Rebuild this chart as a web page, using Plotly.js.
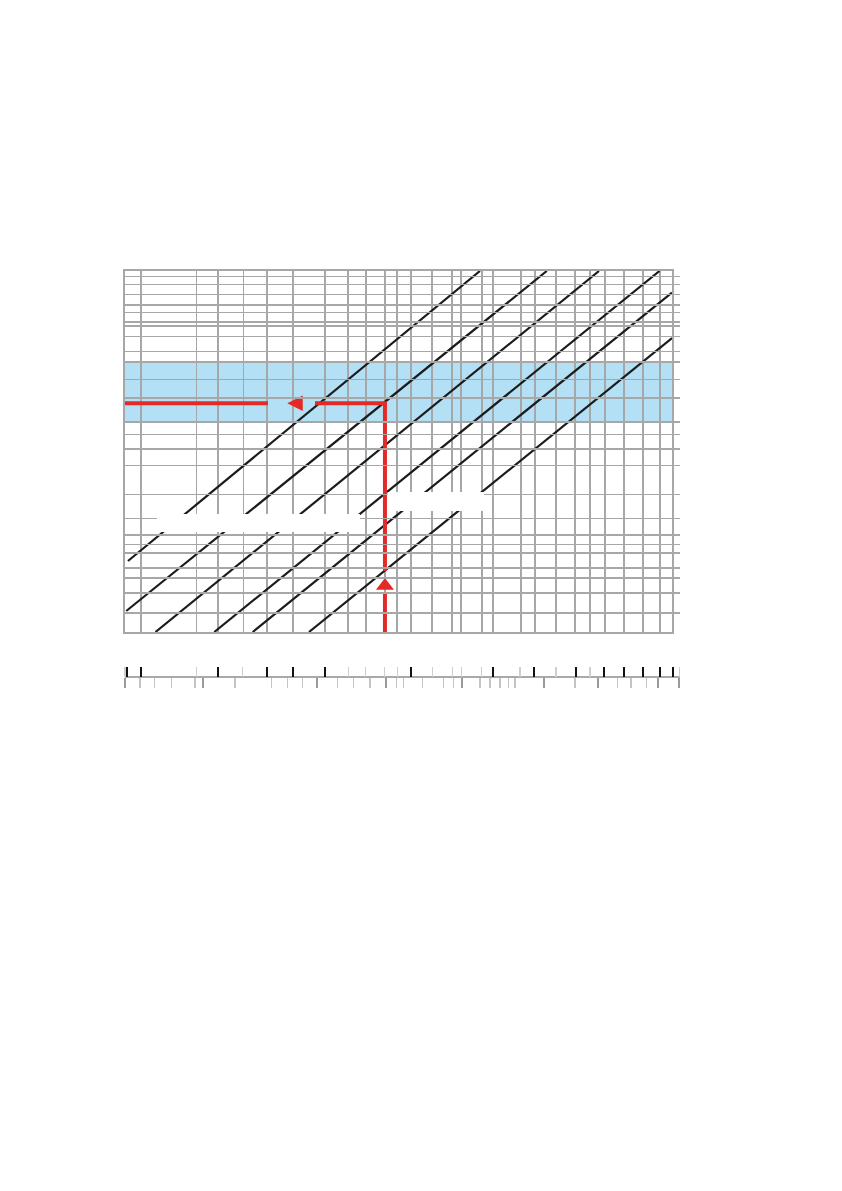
<!DOCTYPE html>
<html>
<head>
<meta charset="utf-8">
<script src="https://cdn.plot.ly/plotly-3.0.1.min.js"></script>
<style>
  html, body { margin: 0; padding: 0; background: #ffffff; }
  #chart { width: 842px; height: 1191px; }
</style>
</head>
<body>
<div id="chart"></div>
<script>
// ---- Data (log-log diagram, all labels removed) ----
// Diagonal characteristic lines: start and end points (flow, pressure drop)
const lineStartQ  = [13.31, 13.13, 16.56, 26.41, 35.83, 56.02];
const lineStartDp = [4.021, 1.509, 1.0, 1.0, 1.0, 1.0];
const lineEndQ    = [217.7, 370.1, 560.2, 905.6, 1000, 1000];
const lineEndDp   = [1181, 1181, 1181, 1181, 775.0, 317.8];

// Recommended pressure-drop band
const bandDp = [61.27, 198.6];

// Worked example (red reading path)
const exampleQ  = 102.4;
const exampleDp = 88.4;
const axisQmin  = 13.0;
const axisDpMin = 1.0;
const gapDpLow  = [2.147, 3.304];   // gap in vertical red line around arrow
const gapQ      = [40.45, 58.75];   // gap in horizontal red line around arrow
const upArrowDp = 2.475;
const leftArrowQ = 47.15;

// Label boxes (text removed) in data units
const labelBox1Q = [16.76, 83.96], labelBox1Dp = [7.096, 10.10];
const labelBox2Q = [104.6, 224.7], labelBox2Dp = [10.71, 15.54];

// Grid values
const xGridMajor = [14.8, 27.2, 40.1, 49.3, 63.6, 102.4, 221.3, 794.3];
const xGridMinor = [23.0, 33.2, 76.3, 88.1, 112.6, 125.9, 148.7, 174.3, 187.3, 241.5,
                    301.5, 337.0, 398.1, 463.1, 521.5, 587.4, 683.2, 909.3];
const yGridMajor = [2.147, 6.692, 61.27, 198.6, 434.8];
const yGridMinor = [1.451, 2.881, 3.505, 4.702, 5.577, 9.247, 14.86, 26.23, 36.10, 48.14,
                    98.06, 141.5, 243.9, 327.3, 402.1, 521.8, 606.9, 748.2, 910.5, 1056.5];

// Conversion scale below the chart
const scaleTopMajor = [13.23, 14.76, 27.13, 40.05, 49.21, 63.58, 125.9, 242.0, 335.0,
                       465.5, 584.2, 681.5, 792.5, 907.1, 1005.6];
const scaleTopMinor = [13.0, 22.96, 33.08, 76.52, 87.85, 102.2, 112.9, 149.1, 175.3,
                       188.3, 220.7, 299.2, 398.1, 521.5, 1059.7];
const scaleBottomMajor = [13.0, 24.20, 59.55, 103.0, 188.3, 362.7, 557.0, 892.8, 1059.7];
const scaleBottomMinor = [14.64, 16.40, 18.83, 22.65, 31.12, 41.66, 47.30, 53.28, 70.36,
                          79.62, 90.91, 112.4, 118.4, 138.2, 162.7, 176.2, 217.7, 235.8,
                          255.3, 272.7, 287.5, 463.0, 647.7, 722.2, 818.3];

// ---- Styling ----
const GRID = '#a7a7a7';
const RED = '#e42a26';
const BLACK = '#1b1b1b';

const traces = [];

// Diagonal lines
for (let i = 0; i < lineStartQ.length; i++) {
  traces.push({
    type: 'scatter', mode: 'lines',
    x: [lineStartQ[i], lineEndQ[i]],
    y: [lineStartDp[i], lineEndDp[i]],
    xaxis: 'x', yaxis: 'y',
    line: { color: BLACK, width: 2.2 },
    hoverinfo: 'skip', showlegend: false
  });
}

// Red reading path
traces.push({
  type: 'scatter', mode: 'lines',
  x: [exampleQ, exampleQ, null, exampleQ, exampleQ, gapQ[1], null, gapQ[0], axisQmin],
  y: [axisDpMin, gapDpLow[0], null, gapDpLow[1], exampleDp, exampleDp, null, exampleDp, exampleDp],
  line: { color: RED, width: 4 },
  hoverinfo: 'skip', showlegend: false, cliponaxis: false
});
// Arrow heads
traces.push({
  type: 'scatter', mode: 'markers',
  x: [exampleQ], y: [upArrowDp],
  marker: { symbol: 'triangle-up', size: 15.6, color: RED, line: { width: 0 } },
  hoverinfo: 'skip', showlegend: false
});
traces.push({
  type: 'scatter', mode: 'markers',
  x: [leftArrowQ], y: [exampleDp],
  marker: { symbol: 'arrow-left', size: 15.5, color: RED, line: { width: 0 } },
  hoverinfo: 'skip', showlegend: false
});

// Dummy traces so the scale axes get drawn
traces.push({ type: 'scatter', x: [], y: [], xaxis: 'x2', yaxis: 'y', showlegend: false, hoverinfo: 'skip' });
traces.push({ type: 'scatter', x: [], y: [], xaxis: 'x3', yaxis: 'y', showlegend: false, hoverinfo: 'skip' });

// Geometry of the page
const L = 125, R = 680, T = 271, B = 701;      // plot area (px)
const plotW = R - L, plotH = B - T;
const mainRight = 672, mainBottom = 632, scaleY = 677;

const xRangeMain = [Math.log10(axisQmin) , 3];
const qPerPx = (xRangeMain[1] - xRangeMain[0]) / (mainRight - L);
const xRangeScale = [xRangeMain[0], xRangeMain[1] + (R - mainRight) * qPerPx];

const layout = {
  width: 842, height: 1191,
  margin: { l: L, r: 842 - R, t: T, b: 1191 - B, pad: 0 },
  paper_bgcolor: '#ffffff',
  plot_bgcolor: 'rgba(0,0,0,0)',
  showlegend: false,
  xaxis: {
    type: 'log', range: xRangeMain,
    domain: [0, (mainRight - L) / plotW],
    anchor: 'y',
    tickmode: 'array', tickvals: xGridMajor,
    showticklabels: false, ticks: '',
    showgrid: true, gridcolor: GRID, gridwidth: 2,
    minor: { tickmode: 'array', tickvals: xGridMinor, showgrid: true, gridcolor: GRID, gridwidth: 1.2, ticks: '' },
    showline: true, mirror: true, linecolor: GRID, linewidth: 2,
    zeroline: false, fixedrange: true
  },
  yaxis: {
    type: 'log', range: [0, Math.log10(1181)],
    domain: [(B - mainBottom) / plotH, 1],
    anchor: 'x',
    tickmode: 'array', tickvals: yGridMajor,
    showticklabels: false, ticks: '',
    showgrid: true, gridcolor: GRID, gridwidth: 2,
    minor: { tickmode: 'array', tickvals: yGridMinor, showgrid: true, gridcolor: GRID, gridwidth: 1.2, ticks: '' },
    showline: true, mirror: true, linecolor: GRID, linewidth: 2,
    zeroline: false, fixedrange: true
  },
  xaxis2: {
    type: 'log', range: xRangeScale, domain: [0, 1],
    anchor: 'free', position: (B - scaleY) / plotH, side: 'bottom',
    tickmode: 'array', tickvals: scaleBottomMajor,
    ticks: 'outside', ticklen: 10, tickwidth: 2, tickcolor: '#9a9a9a',
    minor: { tickmode: 'array', tickvals: scaleBottomMinor, ticks: 'outside', ticklen: 10, tickwidth: 1.2, tickcolor: '#c4c4c4', showgrid: false },
    showticklabels: false, showgrid: false, zeroline: false,
    showline: true, linecolor: '#a9a9a9', linewidth: 2, fixedrange: true
  },
  xaxis3: {
    type: 'log', range: xRangeScale, domain: [0, 1],
    anchor: 'free', position: (B - scaleY) / plotH, side: 'top',
    tickmode: 'array', tickvals: scaleTopMajor,
    ticks: 'outside', ticklen: 10, tickwidth: 2, tickcolor: '#111111',
    minor: { tickmode: 'array', tickvals: scaleTopMinor, ticks: 'outside', ticklen: 10, tickwidth: 1.2, tickcolor: '#cfcfcf', showgrid: false },
    showticklabels: false, showgrid: false, zeroline: false,
    showline: false, fixedrange: true
  },
  shapes: [
    { type: 'rect', layer: 'below', xref: 'x domain', yref: 'y',
      x0: 0, x1: 1, y0: bandDp[0], y1: bandDp[1],
      fillcolor: '#b3e0f5', line: { width: 0 } },
    { type: 'rect', layer: 'above', xref: 'x', yref: 'y',
      x0: labelBox1Q[0], x1: labelBox1Q[1], y0: labelBox1Dp[0], y1: labelBox1Dp[1],
      fillcolor: '#ffffff', line: { width: 0 } },
    { type: 'rect', layer: 'above', xref: 'x', yref: 'y',
      x0: labelBox2Q[0], x1: labelBox2Q[1], y0: labelBox2Dp[0], y1: labelBox2Dp[1],
      fillcolor: '#ffffff', line: { width: 0 } }
  ]
};

Plotly.newPlot('chart', traces, layout, { staticPlot: true, displayModeBar: false });
</script>
</body>
</html>
